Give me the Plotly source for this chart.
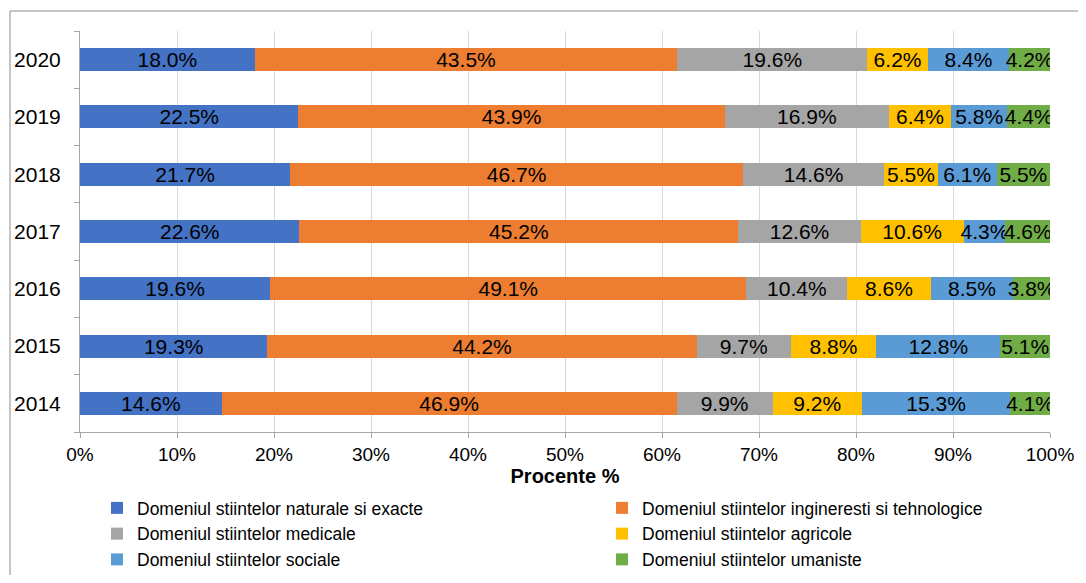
import plotly.graph_objects as go

years = ["2014", "2015", "2016", "2017", "2018", "2019", "2020"]
naturale = [14.6, 19.3, 19.6, 22.6, 21.7, 22.5, 18.0]
ingineresti = [46.9, 44.2, 49.1, 45.2, 46.7, 43.9, 43.5]
medicale = [9.9, 9.7, 10.4, 12.6, 14.6, 16.9, 19.6]
agricole = [9.2, 8.8, 8.6, 10.6, 5.5, 6.4, 6.2]
sociale = [15.3, 12.8, 8.5, 4.3, 6.1, 5.8, 8.4]
umaniste = [4.1, 5.1, 3.8, 4.6, 5.5, 4.4, 4.2]
x_ticks = [0, 10, 20, 30, 40, 50, 60, 70, 80, 90, 100]
x_tick_labels = [f"{t}%" for t in x_ticks]

series = [
    ("Domeniul stiintelor naturale si exacte", naturale, "#4472C4", "legend"),
    ("Domeniul stiintelor ingineresti si tehnologice", ingineresti, "#ED7D31", "legend2"),
    ("Domeniul stiintelor medicale", medicale, "#A5A5A5", "legend"),
    ("Domeniul stiintelor agricole", agricole, "#FFC000", "legend2"),
    ("Domeniul stiintelor sociale", sociale, "#5B9BD5", "legend"),
    ("Domeniul stiintelor umaniste", umaniste, "#70AD47", "legend2"),
]

FONT = "Liberation Sans, Arial, sans-serif"

fig = go.Figure()
for name, vals, color, lg in series:
    fig.add_trace(go.Bar(
        y=years, x=vals, name=name, orientation="h",
        marker=dict(color=color, line=dict(width=0)),
        text=[f"{v:.1f}%" for v in vals],
        textposition="inside", insidetextanchor="middle",
        constraintext="none",
        textfont=dict(color="black", size=21, family=FONT),
        legend=lg,
    ))

# page has an 8px body margin: figure is shifted by OFF px
OFF = 8
W, H = 1086 - OFF, 583 - 2 * OFF
# reference pixel positions of plot area
PX0, PX1, PY0, PY1 = 80, 1050, 31, 432
L = PX0 - OFF
T = PY0 - OFF
pw, ph = PX1 - PX0, PY1 - PY0
R = W - L - pw
B = H - T - ph

def px_x(p):
    return (p - PX0) / pw

def px_y(p):
    return (PY1 - p) / ph

legend_common = dict(
    xanchor="left", yanchor="top", orientation="v",
    font=dict(size=17.5, color="black", family=FONT),
    bgcolor="rgba(0,0,0,0)", itemwidth=30, tracegroupgap=0, traceorder="normal",
)

border = dict(line=dict(color="#8C8C8C", width=1), xref="paper", yref="paper", type="line", layer="below")

fig.update_layout(
    width=W, height=H,
    barmode="stack", barnorm="percent", bargap=0.6,
    margin=dict(l=L, r=R, t=T, b=B, pad=0, autoexpand=False),
    paper_bgcolor="white", plot_bgcolor="white",
    font=dict(family=FONT, size=16, color="black"),
    showlegend=True,
    legend=dict(x=px_x(97), y=px_y(490), **legend_common),
    legend2=dict(x=px_x(602), y=px_y(490), **legend_common),
    xaxis=dict(
        range=[0, 100], tickvals=x_ticks, ticktext=x_tick_labels,
        showgrid=True, gridcolor="#D9D9D9", gridwidth=1,
        showline=True, linecolor="#A6A6A6", linewidth=1,
        ticks="outside", ticklen=5, tickcolor="#A6A6A6",
        tickfont=dict(size=19, color="black"), ticklabelstandoff=0,
        zeroline=False, automargin=False,
        title=dict(text="<b>Procente %</b>", font=dict(size=20, color="black"), standoff=4),
    ),
    yaxis=dict(
        type="category", categoryorder="array", categoryarray=years,
        showline=True, linecolor="#A6A6A6", linewidth=1,
        ticks="outside", ticklen=5, tickcolor="#A6A6A6", tickson="boundaries",
        tickfont=dict(size=21, color="black"), ticklabelstandoff=14,
        showgrid=False, zeroline=False, automargin=False,
    ),
    shapes=[
        dict(x0=px_x(10), x1=px_x(1100), y0=px_y(11), y1=px_y(11), **border),
        dict(x0=px_x(10), x1=px_x(10), y0=px_y(11), y1=px_y(600), **border),
    ],
)

fig.write_html("out.html")
